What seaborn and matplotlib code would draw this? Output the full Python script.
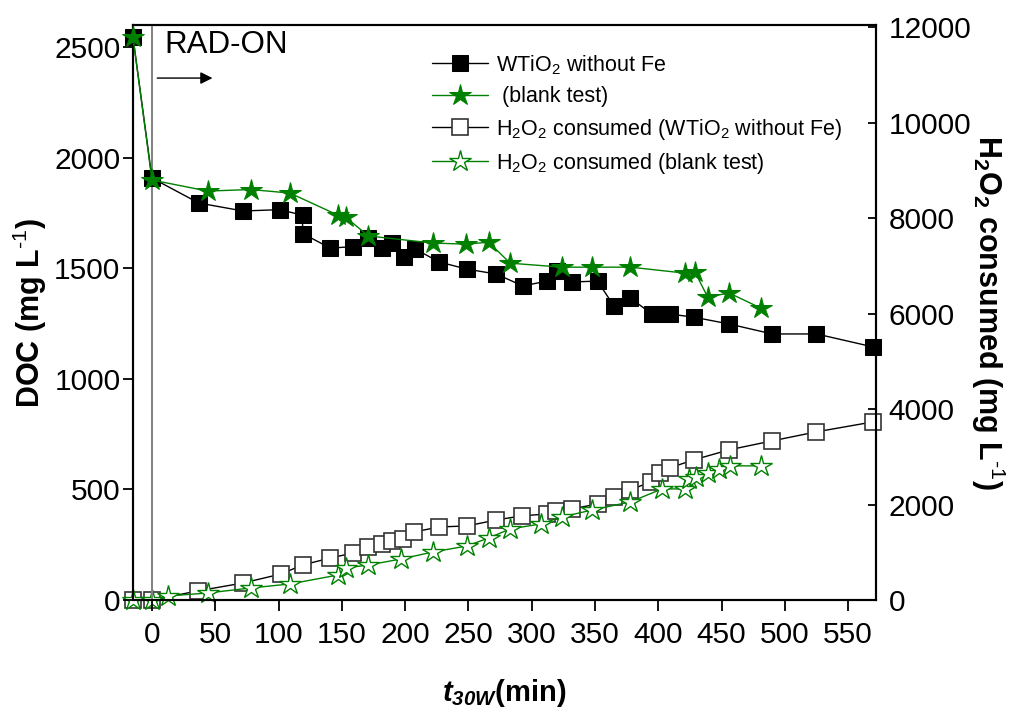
import matplotlib
matplotlib.use("Agg")
import matplotlib.pyplot as plt
import seaborn as sns

# DOC, WTiO2 without Fe (left axis)
doc_w_t = [-15, 0, 37, 72, 101, 119, 119, 141, 159, 171, 182, 190, 199, 208, 227, 249, 272,
           293, 312, 320, 332, 352, 365, 378, 395, 403, 409, 428, 456, 490, 525, 570]
doc_w = [2545, 1908, 1795, 1759, 1765, 1740, 1657, 1591, 1598, 1635, 1591, 1614, 1551, 1587,
         1528, 1496, 1474, 1420, 1442, 1487, 1438, 1442, 1329, 1365, 1293, 1293, 1293, 1279,
         1248, 1203, 1203, 1144]

# DOC, blank test (left axis)
doc_b_t = [-15, 0, 44, 78, 109, 147, 153, 171, 222, 248, 266, 283, 324, 348, 378, 421, 429,
           439, 456, 481]
doc_b = [2545, 1899, 1849, 1856, 1840, 1740, 1731, 1646, 1614, 1609, 1618, 1523, 1505, 1505,
         1505, 1478, 1483, 1370, 1388, 1320]

# H2O2 consumed, WTiO2 without Fe (right axis)
h2_w_t = [-15, 0, 36, 72, 102, 119, 141, 159, 171, 182, 190, 198, 207, 227, 249, 272, 292,
          312, 319, 332, 352, 365, 378, 394, 401, 409, 428, 456, 490, 525, 570]
h2_w = [0, 0, 189, 357, 545, 734, 881, 986, 1112, 1175, 1238, 1280, 1426, 1531, 1552, 1678,
        1762, 1804, 1867, 1909, 2014, 2161, 2307, 2475, 2664, 2769, 2937, 3147, 3335, 3524, 3734]

# H2O2 consumed, blank test (right axis)
h2_b_t = [-15, 0, 13, 44, 78, 109, 147, 153, 171, 197, 222, 249, 266, 283, 307, 324, 348,
          378, 403, 421, 424, 430, 439, 448, 457, 481]
h2_b = [0, 0, 84, 147, 252, 336, 524, 671, 734, 860, 1007, 1133, 1301, 1489, 1594, 1741,
        1888, 2056, 2328, 2328, 2538, 2580, 2664, 2748, 2811, 2811]

x_ticks = list(range(0, 551, 50))
doc_ticks = [0, 500, 1000, 1500, 2000, 2500]
h2_ticks = [0, 2000, 4000, 6000, 8000, 10000, 12000]

labels = ["WTiO$_2$ without Fe", " (blank test)",
          "H$_2$O$_2$ consumed (WTiO$_2$ without Fe)", "H$_2$O$_2$ consumed (blank test)"]

sns.set_style("ticks")
plt.rcParams["font.family"] = ["Liberation Sans", "DejaVu Sans"]
plt.rcParams["mathtext.fontset"] = "custom"
plt.rcParams["mathtext.rm"] = "Liberation Sans"
plt.rcParams["mathtext.it"] = "Liberation Sans:italic"
plt.rcParams["mathtext.bf"] = "Liberation Sans:bold"
plt.rcParams["mathtext.bfit"] = "Liberation Sans:italic:bold"
plt.rcParams["mathtext.default"] = "regular"
for key in ["text.color", "axes.labelcolor", "xtick.color", "ytick.color"]:
    plt.rcParams[key] = "black"

GREEN = "#008000"

fig, ax = plt.subplots(figsize=(10.12, 7.16), dpi=100)
fig.subplots_adjust(left=0.1314, right=0.8656, top=0.9651, bottom=0.162)
ax2 = ax.twinx()

ax.axvline(0, color="#808080", lw=1.4, zorder=1)

sns.lineplot(x=doc_w_t, y=doc_w, ax=ax, color="black", lw=1, marker="s", markersize=11,
             markerfacecolor="black", markeredgecolor="black", estimator=None, sort=False,
             label=labels[0], clip_on=False, zorder=3)
sns.lineplot(x=doc_b_t, y=doc_b, ax=ax, color=GREEN, lw=1, marker="*", markersize=16,
             markerfacecolor=GREEN, markeredgecolor=GREEN, estimator=None, sort=False,
             label=labels[1], clip_on=False, zorder=4)
sns.lineplot(x=h2_w_t, y=h2_w, ax=ax2, color="black", lw=1, marker="s", markersize=11,
             markerfacecolor="white", markeredgecolor="#333333", markeredgewidth=1.2,
             estimator=None, sort=False, label=labels[2], clip_on=False, zorder=3)
sns.lineplot(x=h2_b_t, y=h2_b, ax=ax2, color=GREEN, lw=1, marker="*", markersize=16,
             markerfacecolor="white", markeredgecolor=GREEN, markeredgewidth=1,
             estimator=None, sort=False, label=labels[3], clip_on=False, zorder=4)

ax.set_xlim(-15, 572)
ax.set_ylim(0, 2600)
ax2.set_ylim(0, 12050)
ax.set_xticks(x_ticks)
ax.set_yticks(doc_ticks)
ax2.set_yticks(h2_ticks)

for a in (ax, ax2):
    for s in a.spines.values():
        s.set_visible(True)
        s.set_linewidth(1.5)
        s.set_color("black")

ax.tick_params(axis="both", direction="out", width=1.3, labelsize=21.5)
ax.tick_params(axis="y", length=7, pad=2)
ax.tick_params(axis="x", length=8, pad=7)
ax2.tick_params(axis="y", direction="in", length=6, width=1.3, labelsize=21.5, pad=9)

ax.set_xlabel(r"$\mathbfit{t}_{\mathbfit{30W}}$(min)", fontsize=21, fontweight="bold", labelpad=20)
ax.set_ylabel(r"DOC (mg L$^{\text{-1}}$)", fontsize=22, fontweight="bold", labelpad=4)
ax2.set_ylabel(r"H$_2$O$_2$ consumed (mg L$^{\text{-1}}$)", fontsize=22, fontweight="bold",
               rotation=270, labelpad=26)

ax.text(10, 2509, "RAD-ON", fontsize=22.5, va="center", ha="left")
ax.annotate("", xy=(50, 2360), xytext=(2, 2360),
            arrowprops=dict(arrowstyle="-|>", color="black", lw=1, mutation_scale=18))

h1, _ = ax.get_legend_handles_labels()
h2, _ = ax2.get_legend_handles_labels()
ax.get_legend().remove()
ax2.get_legend().remove()
ax.legend(h1 + h2, labels, loc="upper left", bbox_to_anchor=(0.376, 0.985),
          frameon=False, fontsize=15.5, handlelength=2.6, handletextpad=0.4,
          labelspacing=0.44)
ax.set_zorder(ax2.get_zorder() + 1)
ax.patch.set_visible(False)

fig.savefig("out.png", dpi=100)
